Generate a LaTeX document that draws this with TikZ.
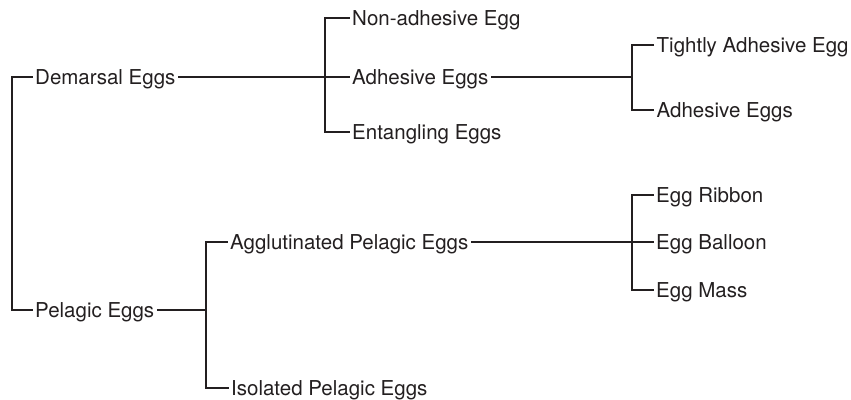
\documentclass[tikz,border=0pt]{standalone}
\usepackage{fontspec}
\setmainfont{TeX Gyre Heros}
\definecolor{ink}{HTML}{231F20}
\begin{document}
\begin{tikzpicture}[x=1pt,y=-1pt,
  lbl/.style={anchor=west,inner xsep=2.5pt,inner ysep=0pt,text height=14pt,text depth=0pt,
    font=\fontsize{20.5}{24}\selectfont,text=ink},
  conn/.style={draw=ink,line width=2.9pt,line cap=butt,line join=miter}]
\useasboundingbox (0,0) rectangle (851,399);
% nodes
\node[lbl] (dem) at (32.5,77) {Demarsal Eggs};
\node[lbl] (pel) at (32.5,310) {Pelagic Eggs};
\node[lbl] (nad) at (349.5,18) {Non-adhesive Egg};
\node[lbl] (adha) at (349.5,77) {Adhesive Eggs};
\node[lbl] (ent) at (349.5,132) {Entangling Eggs};
\node[lbl] (tight) at (654,45) {Tightly Adhesive Egg};
\node[lbl] (adhb) at (654,110) {Adhesive Eggs};
\node[lbl] (agg) at (227.5,242) {Agglutinated Pelagic Eggs};
\node[lbl] (iso) at (228.5,388) {Isolated Pelagic Eggs};
\node[lbl] (rib) at (653.5,195) {Egg Ribbon};
\node[lbl] (bal) at (653.5,242) {Egg Balloon};
\node[lbl] (mass) at (653.5,290) {Egg Mass};
% junctions
\coordinate (j0) at (12,193);
\coordinate (j1) at (325,77);
\coordinate (j2) at (632,77);
\coordinate (j3) at (206,310);
\coordinate (j4) at (632,242);
% connectors
\draw[conn] (dem.west) -| (j0) |- (pel.west);
\draw[conn] (dem.east) -- (j1) -- (adha.west);
\draw[conn] (nad.west) -| (j1) |- (ent.west);
\draw[conn] (adha.east) -- (j2);
\draw[conn] (tight.west) -| (j2) |- (adhb.west);
\draw[conn] (pel.east) -- (j3);
\draw[conn] (agg.west) -| (j3) |- (iso.west);
\draw[conn] (agg.east) -- (j4) -- (bal.west);
\draw[conn] (rib.west) -| (j4) |- (mass.west);
\end{tikzpicture}
\end{document}
